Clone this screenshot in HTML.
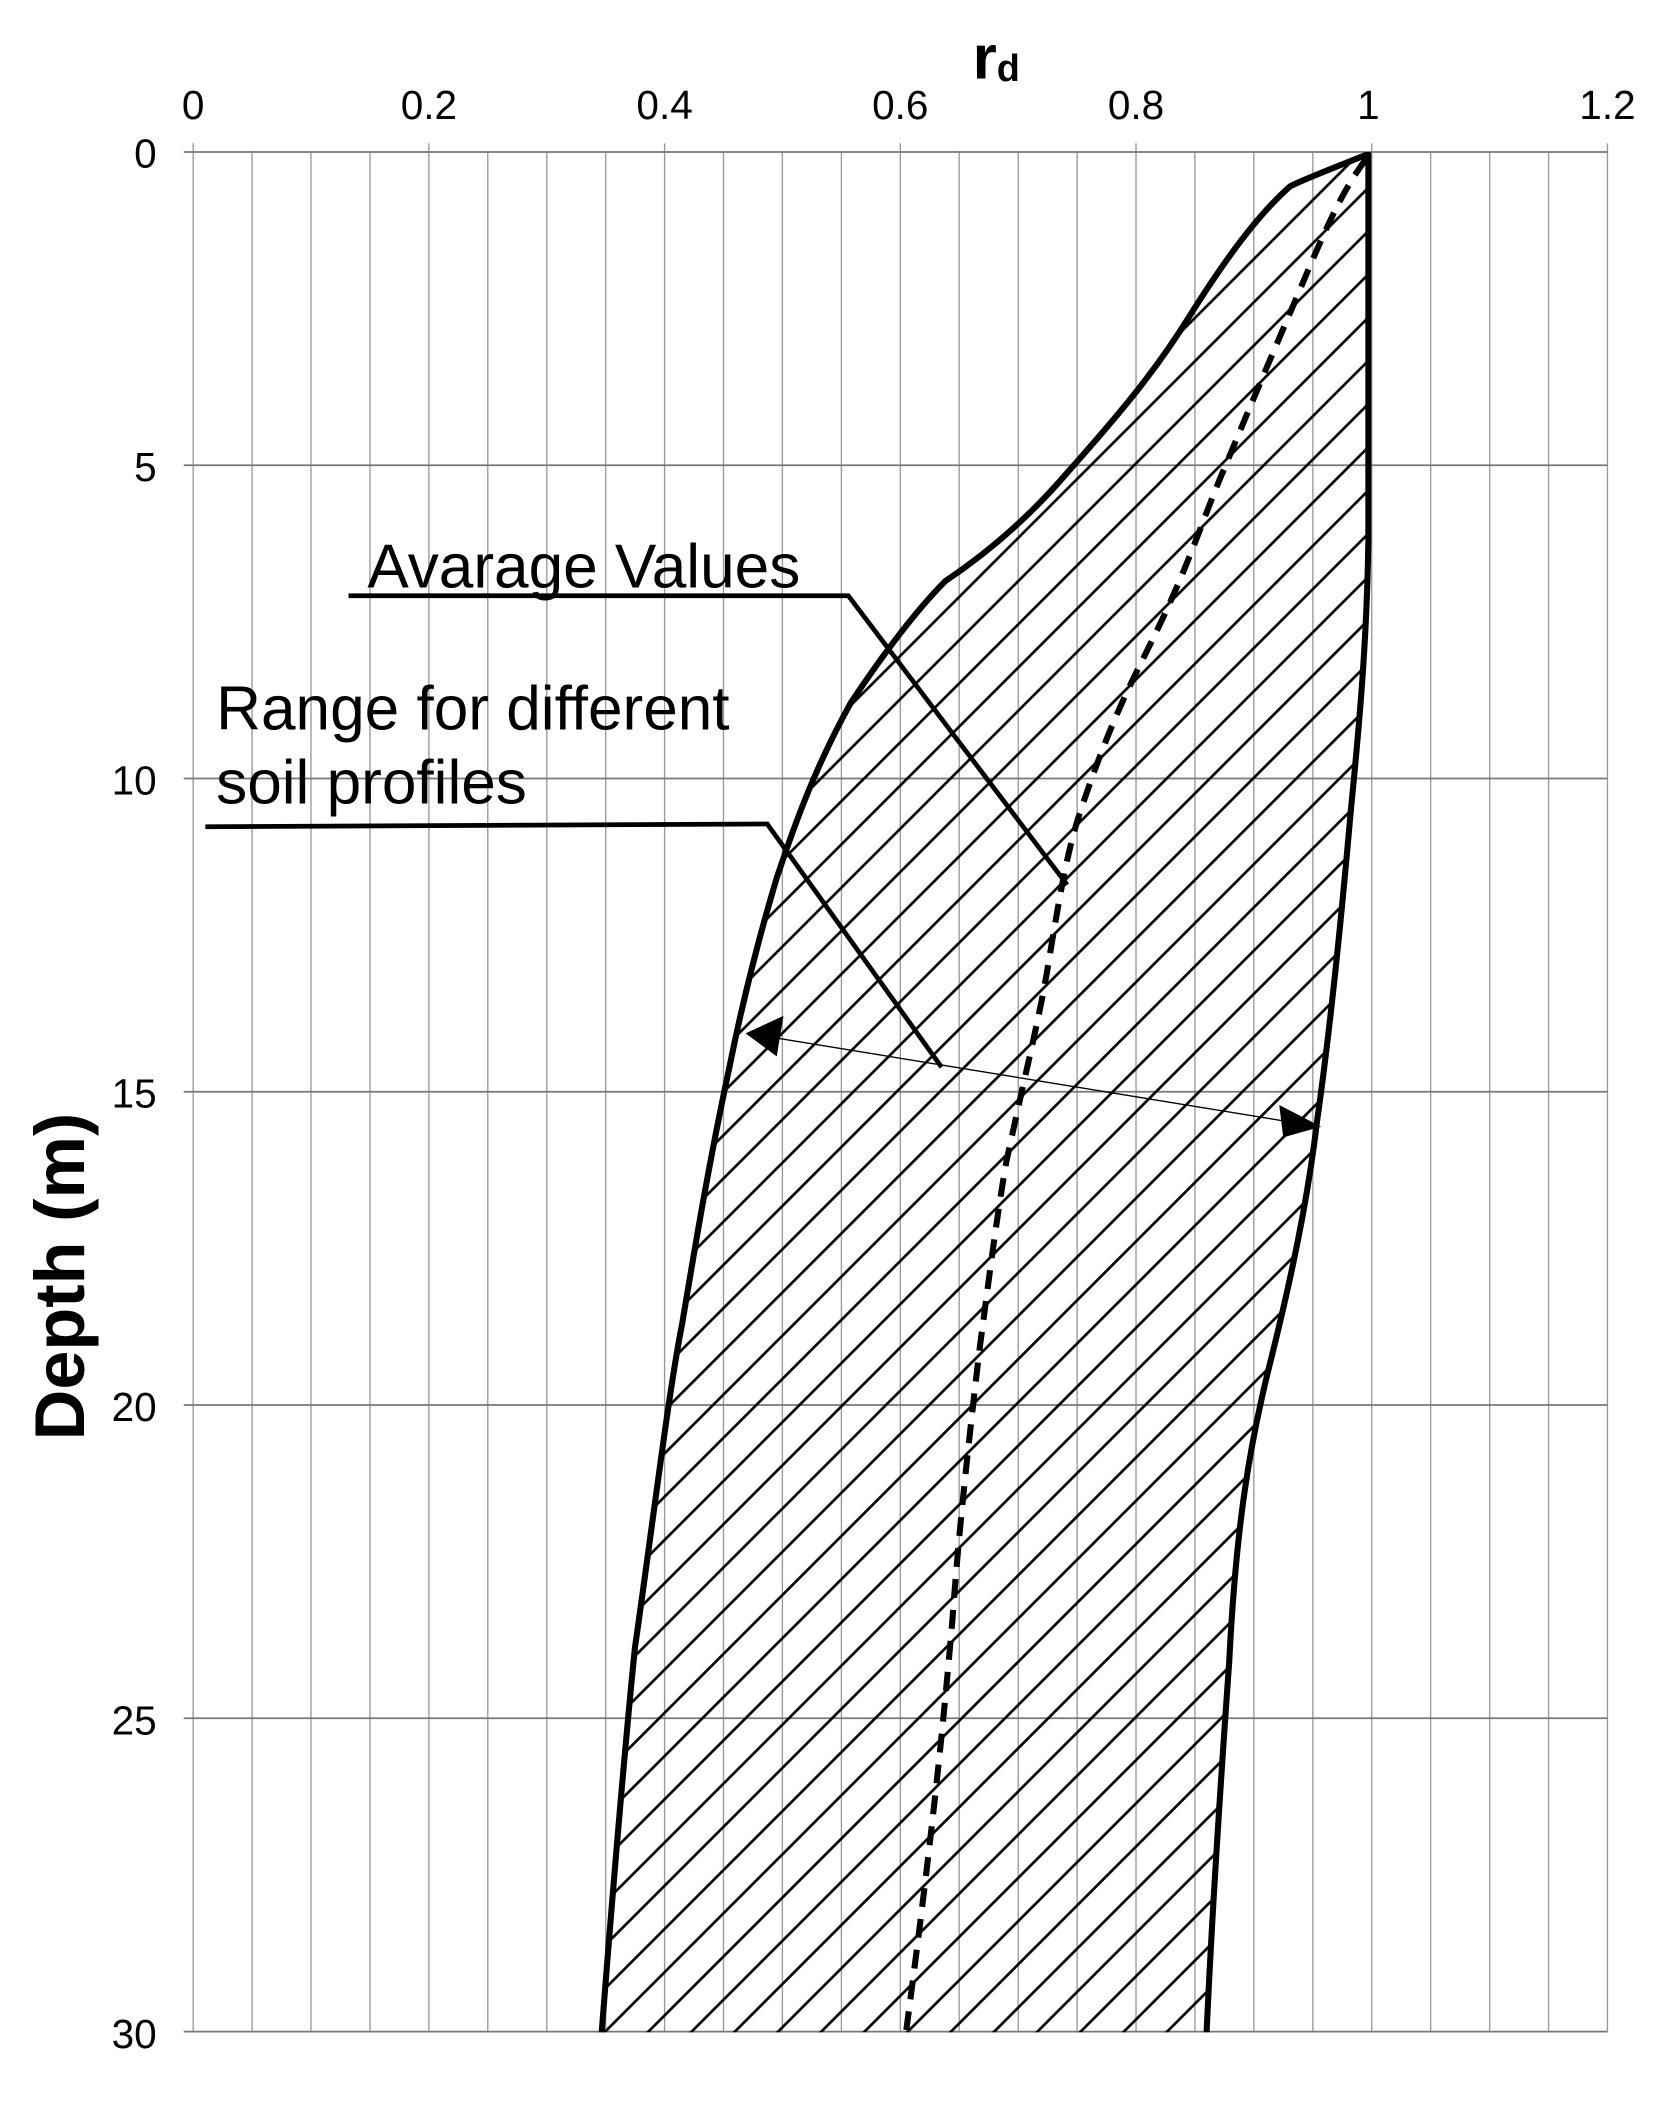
<!DOCTYPE html>
<html><head><style>html,body{margin:0;padding:0;background:#fff}svg{display:block}</style></head>
<body>
<svg width="1675" height="2110" viewBox="0 0 1240 1562" xmlns="http://www.w3.org/2000/svg" font-family="Liberation Sans, sans-serif">
<defs>
<pattern id="h" patternUnits="userSpaceOnUse" width="32" height="32">
<path d="M-4,4 L4,-4 M0,32 L32,0 M28,36 L36,28" stroke="#000" stroke-width="2"/>
</pattern>
<clipPath id="c"><rect x="143" y="112.5" width="1047" height="1392"/></clipPath>
</defs>
<g stroke="#999" stroke-width="1">
<line x1="143.0" y1="106" x2="143.0" y2="1504"/><line x1="186.6" y1="112" x2="186.6" y2="1504"/><line x1="230.2" y1="112" x2="230.2" y2="1504"/><line x1="273.9" y1="112" x2="273.9" y2="1504"/><line x1="317.5" y1="106" x2="317.5" y2="1504"/><line x1="361.1" y1="112" x2="361.1" y2="1504"/><line x1="404.8" y1="112" x2="404.8" y2="1504"/><line x1="448.4" y1="112" x2="448.4" y2="1504"/><line x1="492.0" y1="106" x2="492.0" y2="1504"/><line x1="535.6" y1="112" x2="535.6" y2="1504"/><line x1="579.2" y1="112" x2="579.2" y2="1504"/><line x1="622.9" y1="112" x2="622.9" y2="1504"/><line x1="666.5" y1="106" x2="666.5" y2="1504"/><line x1="710.1" y1="112" x2="710.1" y2="1504"/><line x1="753.8" y1="112" x2="753.8" y2="1504"/><line x1="797.4" y1="112" x2="797.4" y2="1504"/><line x1="841.0" y1="106" x2="841.0" y2="1504"/><line x1="884.6" y1="112" x2="884.6" y2="1504"/><line x1="928.2" y1="112" x2="928.2" y2="1504"/><line x1="971.9" y1="112" x2="971.9" y2="1504"/><line x1="1015.5" y1="106" x2="1015.5" y2="1504"/><line x1="1059.1" y1="112" x2="1059.1" y2="1504"/><line x1="1102.8" y1="112" x2="1102.8" y2="1504"/><line x1="1146.4" y1="112" x2="1146.4" y2="1504"/><line x1="1190.0" y1="106" x2="1190.0" y2="1504"/>
</g>
<g stroke="#777" stroke-width="1.3">
<line x1="136" y1="112.5" x2="1190" y2="112.5"/><line x1="136" y1="344.4" x2="1190" y2="344.4"/><line x1="136" y1="576.3" x2="1190" y2="576.3"/><line x1="136" y1="808.2" x2="1190" y2="808.2"/><line x1="136" y1="1040.1" x2="1190" y2="1040.1"/><line x1="136" y1="1272" x2="1190" y2="1272"/><line x1="136" y1="1504" x2="1190" y2="1504"/>
</g>
<g font-size="30" text-anchor="middle" fill="#000">
<text x="143" y="88">0</text><text x="317.5" y="88">0.2</text><text x="492" y="88">0.4</text><text x="666.5" y="88">0.6</text><text x="841" y="88">0.8</text><text x="1013" y="88">1</text><text x="1190" y="88">1.2</text>
</g>
<g font-size="30" text-anchor="end" fill="#000">
<text x="116" y="124">0</text><text x="116" y="356">5</text><text x="116" y="588">10</text><text x="116" y="820">15</text><text x="116" y="1052">20</text><text x="116" y="1284">25</text><text x="116" y="1516">30</text>
</g>
<text x="720" y="58" font-size="46" font-weight="bold">r<tspan font-size="28" dy="2">d</tspan></text>
<text transform="translate(62,945) rotate(-90)" font-size="52" font-weight="bold" text-anchor="middle">Depth (m)</text>
<path d="M1013,114 C985,125 960,135 955,138 C930,160 905,195 880,235 C855,275 830,305 790,350 C760,385 730,410 700,430 C675,455 650,490 630,520 C605,565 590,605 575,650 C560,700 548,750 540,790 C525,860 515,920 505,980 C495,1030 483,1130 470,1220 C460,1320 452,1420 445,1510 L893,1510 C897,1420 905,1300 910,1230 C915,1130 925,1070 940,1010 C955,950 968,890 975,830 C985,760 993,680 1000,600 C1007,530 1012,470 1013,400 L1013,114 Z" fill="url(#h)" stroke="#000" stroke-width="4.5" stroke-linejoin="round" clip-path="url(#c)"/>
<path d="M1011,118 C995,140 985,160 960,220 C945,255 930,290 905,350 C890,385 880,420 850,480 C835,510 820,540 800,600 C790,630 785,660 775,720 C768,760 760,790 745,860 C738,900 733,940 725,1000 C718,1060 710,1130 705,1200 C698,1280 690,1360 670,1510" fill="none" stroke="#000" stroke-width="4.5" stroke-dasharray="14,9"/>
<text x="272" y="435" font-size="46">Avarage Values</text>
<polyline points="258,441 628,441 790,655" fill="none" stroke="#000" stroke-width="3.5"/>
<text x="160" y="540" font-size="46">Range for different</text>
<text x="160" y="595" font-size="46">soil profiles</text>
<polyline points="152,612 568,610 697,790" fill="none" stroke="#000" stroke-width="3.5"/>
<line x1="560" y1="766" x2="970" y2="833" stroke="#000" stroke-width="1"/>
<polygon points="552,765 580,752 575,782" fill="#000"/>
<polygon points="978,834 947,818 950,842" fill="#000"/>
</svg>
</body></html>
